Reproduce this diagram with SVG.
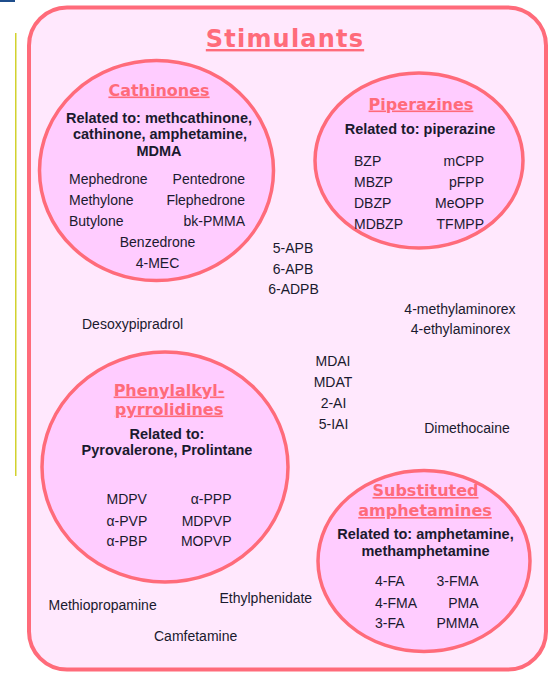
<svg xmlns="http://www.w3.org/2000/svg" width="552" height="674" viewBox="0 0 552 674">
<style>
.bg{fill:#ffffff}
.box{fill:#ffe8fd;stroke:#ff6b7a;stroke-width:4}
.blob{fill:#ffccff;stroke:#ff6b7a;stroke-width:3.5}
.title{font-family:"DejaVu Sans",Verdana,sans-serif;font-weight:bold;font-size:24px;letter-spacing:1.2px;fill:#ff6b7a;text-anchor:middle;text-decoration:underline}
.head{font-family:"DejaVu Sans",Verdana,sans-serif;font-weight:bold;font-size:16px;fill:#ff6b7a;text-anchor:middle;text-decoration:underline}
.rel{font-family:"Liberation Sans",Arial,sans-serif;font-weight:bold;font-size:14.5px;fill:#1a1a2e;text-anchor:middle}
.it{font-family:"Liberation Sans",Arial,sans-serif;font-size:14px;fill:#1a1a2e}
.m{text-anchor:middle}
.e{text-anchor:end}
</style>
<rect class="bg" x="0" y="0" width="552" height="674"/>
<rect x="0" y="0" width="15" height="2" fill="#1f4e8c"/>
<rect x="15" y="33" width="1.5" height="443" fill="#d2d22e"/>

<g id="stimulants">
<rect class="box" x="29" y="7.5" width="517" height="662" rx="38" ry="38"/>
<text class="title" x="285" y="47">Stimulants</text>
</g>

<g id="connectors"></g>

<g id="cathinones">
<ellipse class="blob" cx="156.5" cy="170.5" rx="117" ry="110"/>
<text class="head" x="159" y="95.5">Cathinones</text>
<text class="rel" x="159" y="122.5">Related to: methcathinone,</text>
<text class="rel" x="160" y="139">cathinone, amphetamine,</text>
<text class="rel" x="159" y="155.5">MDMA</text>
<text class="it" x="69" y="184">Mephedrone</text>
<text class="it e" x="245" y="184">Pentedrone</text>
<text class="it" x="69" y="205">Methylone</text>
<text class="it e" x="245" y="205">Flephedrone</text>
<text class="it" x="69" y="225.5">Butylone</text>
<text class="it e" x="245" y="225.5">bk-PMMA</text>
<text class="it m" x="157.5" y="246.5">Benzedrone</text>
<text class="it m" x="157.5" y="267.5">4-MEC</text>
</g>

<g id="piperazines">
<ellipse class="blob" cx="419" cy="160.5" rx="104" ry="87.5"/>
<text class="head" x="421" y="109.5">Piperazines</text>
<text class="rel" x="420" y="134">Related to: piperazine</text>
<text class="it" x="354" y="166">BZP</text>
<text class="it e" x="484" y="166">mCPP</text>
<text class="it" x="354" y="186.5">MBZP</text>
<text class="it e" x="484" y="186.5">pFPP</text>
<text class="it" x="354" y="207.5">DBZP</text>
<text class="it e" x="484" y="207.5">MeOPP</text>
<text class="it" x="354" y="228.5">MDBZP</text>
<text class="it e" x="484" y="228.5">TFMPP</text>
</g>

<g id="phenylalkylpyrrolidines">
<ellipse class="blob" cx="165" cy="467" rx="123" ry="115"/>
<text class="head" x="169" y="395.5">Phenylalkyl-</text>
<text class="head" x="169" y="414.5">pyrrolidines</text>
<text class="rel" x="167" y="438.5">Related to:</text>
<text class="rel" x="167" y="454.5">Pyrovalerone, Prolintane</text>
<text class="it" x="106.5" y="504">MDPV</text>
<text class="it e" x="231.5" y="504">α-PPP</text>
<text class="it" x="106.5" y="525.5">α-PVP</text>
<text class="it e" x="231.5" y="525.5">MDPVP</text>
<text class="it" x="106.5" y="546">α-PBP</text>
<text class="it e" x="231.5" y="546">MOPVP</text>
</g>

<g id="substituted-amphetamines">
<ellipse class="blob" cx="424" cy="561" rx="106" ry="90.5"/>
<text class="head" x="425.5" y="496">Substituted</text>
<text class="head" x="425" y="516">amphetamines</text>
<text class="rel" x="425.5" y="539">Related to: amphetamine,</text>
<text class="rel" x="425.5" y="555.5">methamphetamine</text>
<text class="it" x="375" y="586">4-FA</text>
<text class="it e" x="478.5" y="586">3-FMA</text>
<text class="it" x="375" y="607.5">4-FMA</text>
<text class="it e" x="478.5" y="607.5">PMA</text>
<text class="it" x="375" y="627.5">3-FA</text>
<text class="it e" x="478.5" y="627.5">PMMA</text>
</g>

<g id="benzofurans">
<text class="it m" x="293" y="252.5">5-APB</text>
<text class="it m" x="293" y="273.5">6-APB</text>
<text class="it m" x="293.5" y="294">6-ADPB</text>
</g>
<g id="aminorex">
<text class="it m" x="460" y="313.5">4-methylaminorex</text>
<text class="it m" x="460.5" y="334">4-ethylaminorex</text>
</g>
<g id="aminoindanes">
<text class="it m" x="333" y="365.5">MDAI</text>
<text class="it m" x="333" y="386.5">MDAT</text>
<text class="it m" x="333.5" y="407.5">2-AI</text>
<text class="it m" x="333.5" y="428.5">5-IAI</text>
</g>
<g id="desoxypipradrol"><text class="it" x="82" y="328.5">Desoxypipradrol</text></g>
<g id="dimethocaine"><text class="it m" x="467" y="432.5">Dimethocaine</text></g>
<g id="methiopropamine"><text class="it" x="48.5" y="609.5">Methiopropamine</text></g>
<g id="ethylphenidate"><text class="it" x="219.5" y="603">Ethylphenidate</text></g>
<g id="camfetamine"><text class="it" x="154" y="641">Camfetamine</text></g>
</svg>
